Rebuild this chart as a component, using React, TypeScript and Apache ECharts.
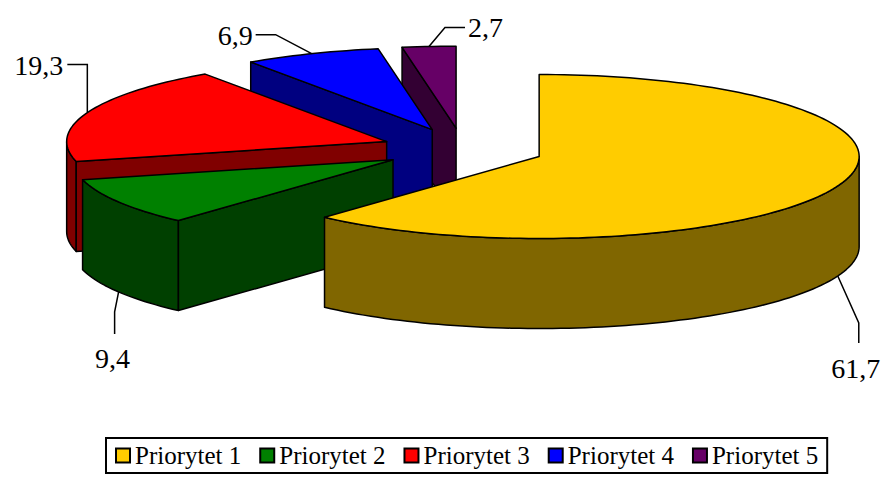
import React, { useEffect, useRef } from "react";
import * as echarts from "echarts";

// ---- data ----
const categories = ["Priorytet 1", "Priorytet 2", "Priorytet 3", "Priorytet 4", "Priorytet 5"];
const values = [61.7, 9.4, 19.3, 6.9, 2.7];
const topColors = ["#FFCC00", "#008000", "#FF0000", "#0000FF", "#660066"];
const sideColors = ["#806600", "#004000", "#800000", "#000080", "#330033"];

// ---- layout (styling, not data) ----
const CX0 = 463;
const CY0 = 149;
const RX = 320;
const RY = 82;
const DEPTH = 90;
const EXPLODE = 0.255;
const FONT = "Liberation Serif";

// leader layout per slice: elbow offset, end offset (relative to anchor), text offset (relative to end), align
const leaderElbow = [[21, 47], [-4, 20], [0, -48], [-36, -19], [16, -19]];
const leaderEnd = [[21, 67], [-4, 42], [-20, -48], [-56, -19], [36, -19]];
const textOffset = [[-3, 26], [-2, 25], [-4, 1], [-3, 1], [3, 0]];
const textAlign = ["center", "center", "right", "right", "left"];
const anchorOnBottom = [true, true, false, false, false];

const D2R = Math.PI / 180;
const total = values.reduce((a, b) => a + b, 0);

function geom(i: number) {
  let cum = 0;
  for (let j = 0; j < i; j++) cum += values[j];
  const a2 = 90 - (360 * cum) / total;
  const a1 = 90 - (360 * (cum + values[i])) / total;
  const mid = (a1 + a2) / 2;
  const cx = CX0 + EXPLODE * RX * Math.cos(mid * D2R);
  const cy = CY0 - EXPLODE * RY * Math.sin(mid * D2R);
  return { a1, a2, mid, cx, cy };
}

function pt(cx: number, cy: number, deg: number, dy = 0): number[] {
  return [cx + RX * Math.cos(deg * D2R), cy - RY * Math.sin(deg * D2R) + dy];
}

function arc(cx: number, cy: number, from: number, to: number, dy = 0): number[][] {
  const steps = Math.max(2, Math.ceil(Math.abs(to - from) / 1.5));
  const out: number[][] = [];
  for (let s = 0; s <= steps; s++) {
    out.push(pt(cx, cy, from + ((to - from) * s) / steps, dy));
  }
  return out;
}

function maxFrontY(i: number) {
  const g = geom(i);
  let m = g.cy;
  for (const p of arc(g.cx, g.cy, g.a1, g.a2)) m = Math.max(m, p[1]);
  return m;
}

const order = values.map((_, i) => i).sort((a, b) => maxFrontY(a) - maxFrontY(b));
const rank: number[] = [];
order.forEach((idx, r) => (rank[idx] = r));

function renderSlice(i: number) {
  return function () {
    const g = geom(i);
    const { a1, a2, cx, cy, mid } = g;
    const children: any[] = [];
    const edge = { stroke: "#000", lineWidth: 1.5, lineJoin: "round" };

    // outer wall, front-facing parts (sin < 0)
    for (let n = -2; n <= 1; n++) {
      const lo = Math.max(a1, -180 + 360 * n);
      const hi = Math.min(a2, 360 * n);
      if (hi - lo > 0.01) {
        const top = arc(cx, cy, lo, hi);
        const bot = arc(cx, cy, hi, lo, DEPTH);
        children.push({
          type: "polygon",
          shape: { points: top.concat(bot) },
          style: { fill: sideColors[i], ...edge },
        });
      }
    }
    // radial walls
    const walls: number[] = [];
    if (Math.cos(a1 * D2R) > 1e-6) walls.push(a1);
    if (Math.cos(a2 * D2R) < -1e-6) walls.push(a2);
    for (const a of walls) {
      const p = pt(cx, cy, a);
      children.push({
        type: "polygon",
        shape: { points: [[cx, cy], p, [p[0], p[1] + DEPTH], [cx, cy + DEPTH]] },
        style: { fill: sideColors[i], ...edge },
      });
    }
    // top face
    children.push({
      type: "polygon",
      shape: { points: [[cx, cy]].concat(arc(cx, cy, a1, a2)) },
      style: { fill: topColors[i], ...edge },
    });

    // label + leader
    const anchor = pt(cx, cy, mid, anchorOnBottom[i] ? DEPTH : 0);
    const elbow = [anchor[0] + leaderElbow[i][0], anchor[1] + leaderElbow[i][1]];
    const end = [anchor[0] + leaderEnd[i][0], anchor[1] + leaderEnd[i][1]];
    children.push({
      type: "polyline",
      shape: { points: [anchor, elbow, end] },
      style: { stroke: "#000", lineWidth: 1.5, fill: "none" },
      z2: 50,
    });
    children.push({
      type: "text",
      style: {
        text: String(values[i]).replace(".", ","),
        x: end[0] + textOffset[i][0],
        y: end[1] + textOffset[i][1],
        fill: "#000",
        fontSize: 28,
        fontFamily: FONT,
        align: textAlign[i],
        verticalAlign: "middle",
      },
      z2: 60,
    });
    return { type: "group", children };
  };
}

export default function App() {
  const ref = useRef<HTMLDivElement>(null);
  useEffect(() => {
    if (!ref.current) return;
    const chart = echarts.init(ref.current, null, { renderer: "svg" });
    chart.setOption({
      animation: false,
      backgroundColor: "#ffffff",
      textStyle: { fontFamily: FONT },
      legend: {
        data: categories,
        left: 106,
        top: 438,
        orient: "horizontal",
        icon: "rect",
        itemWidth: 14,
        itemHeight: 14,
        itemGap: 18,
        padding: [5, 9],
        borderColor: "#000",
        borderWidth: 2,
        itemStyle: { borderColor: "#000", borderWidth: 2 },
        formatter: "{a|{name}}",
        textStyle: {
          fontFamily: FONT,
          fontSize: 25,
          color: "#000",
          rich: { a: { fontFamily: FONT, fontSize: 25, color: "#000" } },
        },
        selectedMode: false,
      },
      series: categories.map((name, i) => ({
        type: "custom",
        name,
        coordinateSystem: "none",
        z: 2 + rank[i],
        itemStyle: { color: topColors[i] },
        data: [values[i]],
        renderItem: renderSlice(i),
      })),
    });
    return () => chart.dispose();
  }, []);
  return (
    <div
      ref={ref}
      style={{ position: "absolute", left: 0, top: 0, width: 890, height: 477 }}
    />
  );
}
